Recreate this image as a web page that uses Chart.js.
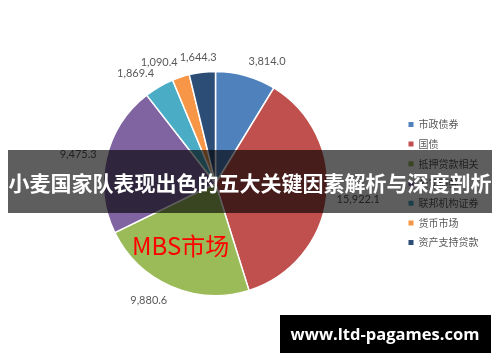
<!DOCTYPE html>
<html><head><meta charset="utf-8">
<script src="https://cdn.jsdelivr.net/npm/chart.js@4/dist/chart.umd.min.js"></script>
<style>html,body{margin:0;padding:0;background:#fff;}#wrap{width:500px;height:362px;}</style>
</head><body><div id="wrap"><canvas id="c" width="500" height="362"></canvas></div>
<script>
const categories = ['市政债券', '国债', '抵押贷款相关', '公司债券', '联邦机构证券', '货币市场', '资产支持贷款'];
const values = [3814.0, 15922.1, 9880.6, 9475.3, 1869.4, 1090.4, 1644.3];
const colors = ['#4F81BD', '#C0504D', '#9BBB59', '#8064A2', '#4BACC6', '#F79646', '#2C4D75'];
const titleText = '小麦国家队表现出色的五大关键因素解析与深度剖析';
const calloutText = 'MBS市场';
const watermarkText = 'www.ltd-pagames.com';

function fmt(v) {
  const s = v.toFixed(1);
  const [ip, dp] = s.split('.');
  return ip.replace(/\B(?=(\d{3})+(?!\d))/g, ',') + '.' + dp;
}

// Excel-style "outside end" labels: nearest box corner sits just outside the arc,
// with a simple horizontal nudge when two labels collide.
const labelPlugin = {
  id: 'outsideLabels',
  afterDatasetsDraw(chart) {
    const ctx = chart.ctx;
    const meta = chart.getDatasetMeta(0);
    ctx.save();
    ctx.font = '11px Lato';
    ctx.fillStyle = '#595959';
    ctx.textAlign = 'center';
    ctx.textBaseline = 'middle';
    const placed = [];
    meta.data.forEach((arc, i) => {
      const p = arc.getProps(['startAngle', 'endAngle', 'outerRadius', 'x', 'y'], true);
      const mid = (p.startAngle + p.endAngle) / 2;
      const txt = fmt(values[i]);
      const w = ctx.measureText(txt).width, h = 10;
      const ux = Math.cos(mid), uy = Math.sin(mid);
      const d = p.outerRadius + 10;
      const ax = p.x + ux * d, ay = p.y + uy * d;
      let cx, cy;
      if (Math.abs(ux) > 0.9) {
        cx = ax + Math.sign(ux) * w / 2;
        cy = ay + uy * h / 2;
      } else {
        cx = ax + Math.sign(ux) * w / 2;
        cy = ay + Math.sign(uy) * h / 2;
      }
      let box = { l: cx - w / 2, r: cx + w / 2, t: cy - h / 2, b: cy + h / 2 };
      placed.forEach(o => {
        if (box.l < o.r && box.r > o.l && box.t < o.b && box.b > o.t) {
          const oc = (o.l + o.r) / 2;
          let shift = cx >= oc ? (o.r + 2 - box.l) : (o.l - 2 - box.r);
          cx += shift; box.l += shift; box.r += shift;
        }
      });
      placed.push(box);
      ctx.fillText(txt, cx, cy);
    });
    ctx.restore();
  }
};

const overlayPlugin = {
  id: 'overlays',
  afterDraw(chart) {
    const ctx = chart.ctx;
    ctx.save();
    ctx.font = '24px "Noto Sans CJK SC"';
    ctx.fillStyle = '#ff0000';
    ctx.textAlign = 'left';
    ctx.textBaseline = 'alphabetic';
    ctx.fillText(calloutText, 132, 255);
    ctx.fillStyle = 'rgba(0,0,0,0.63)';
    ctx.fillRect(8, 150, 484, 63);
    ctx.font = 'bold 21px "Noto Sans CJK SC"';
    ctx.fillStyle = '#ffffff';
    ctx.textAlign = 'center';
    ctx.textBaseline = 'middle';
    ctx.fillText(titleText, 250, 183);
    ctx.fillStyle = '#000000';
    ctx.fillRect(280, 315, 211, 38);
    let fs = 16;
    ctx.font = 'bold ' + fs + 'px "Open Sans"';
    const mw = ctx.measureText(watermarkText).width;
    fs = fs * 189 / mw;
    ctx.font = 'bold ' + fs.toFixed(2) + 'px "Open Sans"';
    ctx.fillStyle = '#ffffff';
    ctx.fillText(watermarkText, 385, 335);
    ctx.restore();
  }
};

new Chart(document.getElementById('c'), {
  type: 'pie',
  data: {
    labels: categories,
    datasets: [{
      data: values,
      backgroundColor: colors,
      borderColor: '#ffffff',
      borderWidth: 1.5,
      radius: 112
    }]
  },
  options: {
    responsive: false,
    animation: false,
    devicePixelRatio: 1,
    layout: { padding: { left: 32.2, right: 11.5, top: 5, bottom: 0 } },
    plugins: {
      tooltip: { enabled: false },
      legend: {
        position: 'right',
        align: 'center',
        labels: {
          boxWidth: 5,
          boxHeight: 5,
          padding: 9.7,
          color: '#595959',
          font: { family: '"Noto Sans CJK SC"', size: 10 },
          generateLabels(chart) {
            const items = Chart.overrides.pie.plugins.legend.labels.generateLabels(chart);
            items.forEach(it => { it.lineWidth = 0; it.strokeStyle = 'rgba(0,0,0,0)'; });
            return items;
          }
        }
      }
    }
  },
  plugins: [labelPlugin, overlayPlugin]
});
</script>
</body></html>
